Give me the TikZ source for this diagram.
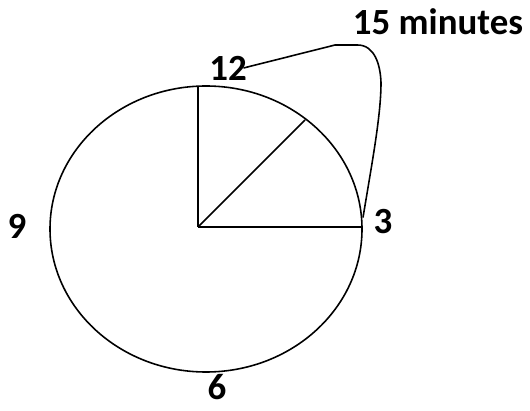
\documentclass[tikz,border=0pt]{standalone}
\usepackage{fontspec}
\setsansfont{Carlito}
\usetikzlibrary{positioning,calc}

\begin{document}
\begin{tikzpicture}[
    node font=\sffamily\bfseries\fontsize{21}{23}\selectfont,
    hand line/.style={line width=0.9pt, black},
    hour label/.style={inner sep=0pt},
]
\useasboundingbox (0,0) rectangle (10.6,8.2);

% === Clock face ===
\coordinate (mid) at (4.12,3.62);
\draw[hand line] (mid) ellipse [x radius=3.12, y radius=2.86];

% === Hands ===
\coordinate (O) at (3.96,3.66);
\coordinate (top) at (3.96,6.46);
\coordinate (right) at (7.24,3.66);
\coordinate (half) at (6.1,5.8);

\draw[hand line] (O) -- (top);
\draw[hand line] (O) -- (right);
\draw[hand line] (O) -- (half);

% Hour labels
\node[hour label] (twelve) at (4.56,6.84) {12};
\node[hour label] (three) at (7.66,3.76) {3};
\node[hour label] (six) at (4.34,0.46) {6};
\node[hour label] (nine) at (0.34,3.68) {9};

% === 15 minutes loop ===
\node[hour label] (quarter) at (8.76,7.76) {15 minutes};
\draw[hand line] (7.26,3.85) .. controls (7.45,5) and (7.62,5.9) .. (7.62,6.55)
    to[out=92,in=0] (7.15,7.3) -- (6.7,7.3) -- ([xshift=-2pt]twelve.east);

\end{tikzpicture}
\end{document}
